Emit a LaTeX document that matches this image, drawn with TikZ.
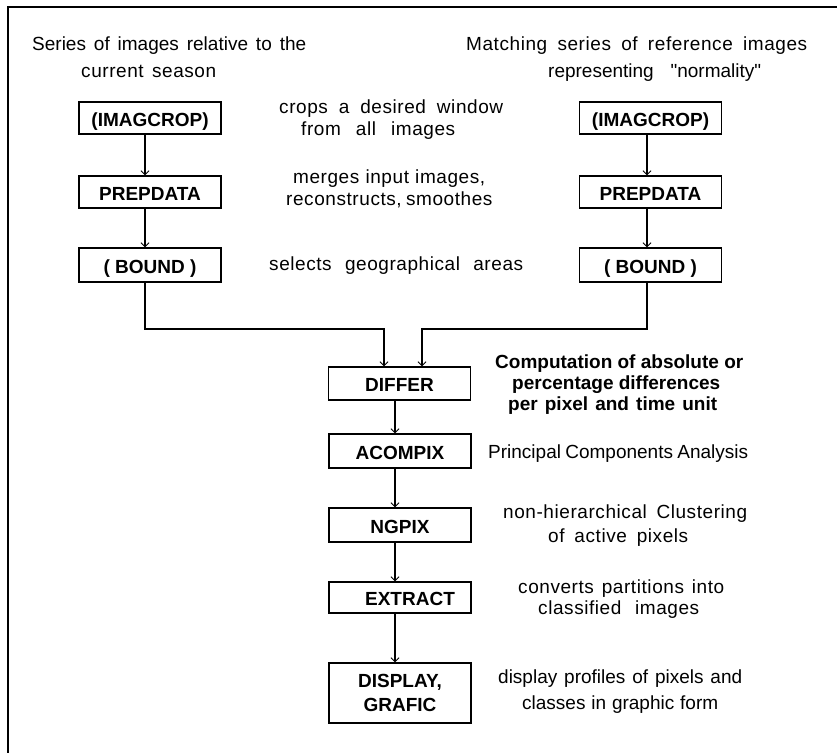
\documentclass[tikz,border=0pt]{standalone}
\usepackage{fontspec}
\setmainfont{Liberation Sans}[Ligatures=TeXOff]
\usetikzlibrary{arrows.meta}
\begin{document}
\begin{tikzpicture}[x=1pt,y=-1pt,
  box/.style={draw, line width=1.3pt, minimum width=142pt, inner sep=0pt, text height=16pt, text depth=0pt, font=\fontsize{19}{21}\selectfont\bfseries},
  descl/.style={anchor=base west, inner sep=0pt, font=\fontsize{19}{19}\selectfont},
  descs/.style={anchor=base west, inner sep=0pt, font=\fontsize{19}{19}\selectfont\addfontfeature{LetterSpace=3}},
  descb/.style={anchor=base west, inner sep=0pt, font=\fontsize{19}{19}\selectfont\bfseries},
  arr/.style={line width=1.1pt, -{Straight Barb[length=4pt,width=8pt,line width=0.9pt]}},
  frame/.style={line width=2pt}
  ]
\useasboundingbox (0,0) rectangle (837,753);
\draw[frame] (837,7) -- (8,7) -- (8,753);

% headings
\node[descl] (h1) at (32,50) {\makebox[274pt][s]{Series of images relative to the}};
\node[descs] (h2) at (81,77) {\makebox[135pt][s]{current season}};
\node[descs] (h3) at (466,50) {\makebox[341pt][s]{Matching series of reference images}};
\node[descl] (h4) at (548,77) {\makebox[213pt][s]{representing "normality"}};

% boxes
\node[box, minimum height=32pt] (icL) at (150,118) {(IMAGCROP)};
\node[box, minimum height=32pt] (pdL) at (150,192) {PREPDATA};
\node[box, minimum height=34pt] (bdL) at (150,265) {( BOUND )};
\node[box, minimum height=32pt] (icR) at (650.5,118) {(IMAGCROP)};
\node[box, minimum height=32pt] (pdR) at (650.5,192) {PREPDATA};
\node[box, minimum height=34pt] (bdR) at (650.5,265) {( BOUND )};
\node[box, minimum height=33pt] (dif) at (399.5,383.5) {DIFFER};
\node[box, minimum height=34pt] (aco) at (400,451) {ACOMPIX};
\node[box, minimum height=34pt] (ngp) at (400,525) {NGPIX};
\node[box, minimum height=31pt] (ext) at (400,597.5) {\hspace{20pt}EXTRACT};
\node[draw, line width=1.3pt, minimum width=142pt, minimum height=60pt, inner sep=0pt, align=center, font=\fontsize{19}{24}\selectfont\bfseries] (dsp) at (400,693) {DISPLAY,\\GRAFIC};

% descriptions
\node[descs] (d1a) at (279,113) {\makebox[224pt][s]{crops a desired window}};
\node[descs] (d1b) at (301,135) {\makebox[154pt][s]{from all images}};
\node[descs] (d2a) at (293,183) {\makebox[192pt][s]{merges input images,}};
\node[descs] (d2b) at (286,205) {\makebox[204pt][s]{reconstructs, smoothes}};
\node[descs] (d3) at (269,270) {\makebox[254pt][s]{selects geographical areas}};
\node[descb] (d4a) at (495,368) {Computation of absolute or};
\node[descb] (d4b) at (512,389) {percentage differences};
\node[descb] (d4c) at (508,410) {\makebox[209pt][s]{per pixel and time unit}};
\node[descl] (d5) at (488,458) {\makebox[260pt][s]{Principal Components Analysis}};
\node[descs] (d6a) at (503,518) {\makebox[244pt][s]{non-hierarchical Clustering}};
\node[descs] (d6b) at (548,542) {\makebox[140pt][s]{of active pixels}};
\node[descs] (d7a) at (518,593) {\makebox[206pt][s]{converts partitions into}};
\node[descs] (d7b) at (538,614) {\makebox[161pt][s]{classified images}};
\node[descl] (d8a) at (498,683) {\makebox[244pt][s]{display profiles of pixels and}};
\node[descl] (d8b) at (522,709) {\makebox[196pt][s]{classes in graphic form}};

% arrows
\draw[arr] ([xshift=-5pt]icL.south) -- ([xshift=-5pt]pdL.north);
\draw[arr] ([xshift=-5pt]pdL.south) -- ([xshift=-5pt]bdL.north);
\draw[arr] ([xshift=-3.5pt]icR.south) -- ([xshift=-3.5pt]pdR.north);
\draw[arr] ([xshift=-3.5pt]pdR.south) -- ([xshift=-3.5pt]bdR.north);
\coordinate (jn) at (0,329);
\draw[arr] ([xshift=-5pt]bdL.south) -- ([xshift=-5pt]bdL.south |- jn) -- ([xshift=-15.5pt]dif.north |- jn) -- ([xshift=-15.5pt]dif.north);
\draw[arr] ([xshift=-3.5pt]bdR.south) -- ([xshift=-3.5pt]bdR.south |- jn) -- ([xshift=22.5pt]dif.north |- jn) -- ([xshift=22.5pt]dif.north);
\draw[arr] ([xshift=-4.5pt]dif.south) -- ([xshift=-5pt]aco.north);
\draw[arr] ([xshift=-5pt]aco.south) -- ([xshift=-5pt]ngp.north);
\draw[arr] ([xshift=-5pt]ngp.south) -- ([xshift=-5pt]ext.north);
\draw[arr] ([xshift=-5pt]ext.south) -- ([xshift=-5pt]dsp.north);
\end{tikzpicture}
\end{document}
